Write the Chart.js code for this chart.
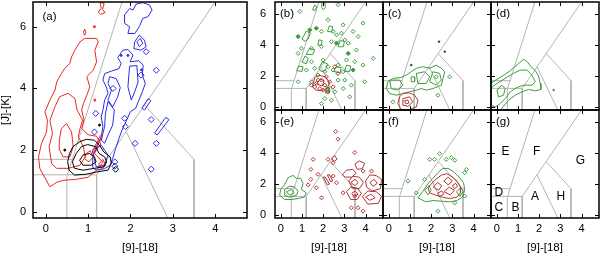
<!DOCTYPE html>
<html>
<head>
<meta charset="utf-8">
<script src="https://cdn.jsdelivr.net/npm/chart.js@4.4.1/dist/chart.umd.min.js"></script>
<style>
  body { margin: 0; background: #fff; }
  #wrap { position: relative; width: 600px; height: 256px; overflow: hidden; }
  canvas { position: absolute; }
</style>
</head>
<body>
<div id="wrap">
  <canvas id="pa" width="250" height="256" style="left:0;top:0"></canvas>
  <canvas id="pb" width="146" height="113" style="left:240px;top:0"></canvas>
  <canvas id="pc" width="114" height="113" style="left:380px;top:0"></canvas>
  <canvas id="pd" width="112" height="113" style="left:488px;top:0"></canvas>
  <canvas id="pe" width="146" height="149" style="left:240px;top:107px"></canvas>
  <canvas id="pf" width="114" height="149" style="left:380px;top:107px"></canvas>
  <canvas id="pg" width="112" height="149" style="left:488px;top:107px"></canvas>
</div>
<script>
// axis ticks
const xTicks = [0, 1, 2, 3, 4];
const yTicks = [0, 2, 4, 6];

// region boundaries in the [9]-[18] / [J]-[K] plane
const boundaryLines = [
  [[0.5, -0.2], [0.5, 1.15], [1.8, 6.8]],
  [[-0.3, 1.7], [0.63, 1.7]],
  [[-0.3, 1.2], [1.2, 1.2], [1.2, -0.2]],
  [[1.2, 1.2], [4.0, 6.8]],
  [[1.9, 2.6], [2.88, -0.2]],
  [[2.33, 3.46], [3.5, 1.7], [3.5, -0.2]]
];
const regionNames = ["A", "B", "C", "D", "E", "F", "G", "H"];
const regionX = [1.8, 0.89, 0.1, 0.1, 0.41, 1.88, 3.94, 3.02];
const regionY = [1.19, 0.5, 0.5, 1.45, 4.12, 4.12, 3.54, 1.19];

// panel (a)
const aRedLoops = [
  [[0.10,0.81],[-0.14,1.41],[-0.17,1.78],[-0.10,2.22],[0.02,2.59],[0.04,2.97],[-0.02,3.24],[0.10,3.62],[0.22,3.95],[0.26,4.21],[0.37,4.48],[0.45,4.65],[0.57,4.81],[0.61,5.02],[0.69,5.24],[0.81,5.51],[0.92,5.62],[1.20,5.62],[1.24,5.51],[1.16,5.24],[1.20,4.86],[1.12,4.59],[0.97,4.38],[1.04,4.05],[0.97,3.78],[0.89,3.51],[0.85,3.30],[0.90,3.00],[0.85,2.70],[1.00,2.50],[1.20,2.45],[1.30,2.20],[1.15,1.90],[1.35,1.60],[1.20,1.35],[1.00,1.12],[0.70,1.05],[0.40,1.02],[0.25,0.95]],
  [[0.14,1.56],[0.08,2.11],[0.16,2.54],[0.10,2.97],[0.22,3.41],[0.33,3.73],[0.53,3.84],[0.69,3.67],[0.74,3.30],[0.87,2.97],[0.81,2.70],[0.77,2.43],[0.89,2.11],[0.93,1.78],[0.81,1.51],[0.53,1.41],[0.26,1.41]],
  [[0.32,2.32],[0.37,2.70],[0.49,2.86],[0.61,2.59],[0.65,2.11],[0.57,1.78],[0.41,1.78],[0.33,2.00]],
  [[0.89,5.82],[0.92,5.92],[0.95,5.82],[0.92,5.72]],
  [[1.28,6.80],[1.38,6.74],[1.34,6.56],[1.40,6.46],[1.30,6.40],[1.24,6.47],[1.31,6.60]],
  [[0.95,1.88],[1.05,1.98],[1.12,1.78],[1.02,1.62],[0.92,1.72]],
  [[1.34,2.47],[1.29,2.47],[1.10,1.96],[1.15,1.92]],
  [[1.25,1.55],[1.35,1.70],[1.42,1.50],[1.32,1.40]]
];
const aRedDots = [[1.15, 6.0], [1.16, 3.62]];
const aBlackLoops = [
  [[0.56,1.89],[0.64,2.11],[0.80,2.27],[0.96,2.35],[1.15,2.32],[1.27,2.16],[1.37,1.94],[1.52,1.78],[1.55,1.57],[1.47,1.35],[1.23,1.30],[0.96,1.22],[0.68,1.19],[0.55,1.35],[0.52,1.62]],
  [[0.72,1.89],[0.84,2.11],[0.99,2.18],[1.18,2.11],[1.26,1.89],[1.39,1.78],[1.44,1.62],[1.37,1.46],[1.15,1.41],[0.88,1.35],[0.68,1.41],[0.63,1.62]],
  [[0.80,1.67],[0.88,1.84],[1.03,1.89],[1.15,1.78],[1.19,1.62],[1.07,1.51],[0.88,1.51]]
];
const aBlackMarks = [[1.65, 1.38]];
const aBlackDots = [[0.45, 2.0], [1.27, 2.81]];
const aBlueLoops = [
  [[1.70,5.00],[1.82,5.24],[1.94,5.26],[2.06,5.08],[1.99,4.86],[2.20,4.90],[2.30,4.75],[2.28,4.43],[2.35,4.16],[2.28,3.89],[2.20,3.62],[2.12,3.35],[2.00,3.25],[1.91,2.97],[1.80,2.65],[1.73,2.38],[1.65,2.05],[1.58,1.73],[1.52,1.51],[1.39,1.40],[1.19,1.35],[1.10,1.46],[1.11,1.78],[1.19,2.11],[1.31,2.43],[1.35,2.76],[1.31,3.08],[1.35,3.30],[1.39,3.62],[1.47,3.84],[1.43,4.05],[1.35,4.27],[1.39,4.48],[1.55,4.56],[1.73,4.64],[1.78,4.81]],
  [[1.86,6.38],[1.98,6.59],[2.06,6.54],[2.13,6.73],[2.29,6.78],[2.45,6.70],[2.51,6.54],[2.41,6.32],[2.29,6.27],[2.21,6.00],[2.10,5.78],[1.94,5.78],[1.98,6.00],[1.86,6.11]],
  [[2.10,5.51],[2.21,5.73],[2.33,5.56],[2.37,5.35],[2.25,5.24],[2.08,5.29]],
  [[2.15,5.51],[2.23,5.62],[2.29,5.46],[2.21,5.35]],
  [[1.51,4.38],[1.66,4.32],[1.76,4.03],[1.70,3.73],[1.58,3.40],[1.47,3.62],[1.55,3.94],[1.47,4.16]],
  [[1.98,4.72],[2.15,4.74],[2.18,4.21],[2.10,3.89],[2.02,3.62],[1.94,4.05]],
  [[1.47,3.57],[1.62,3.30],[1.58,2.81],[1.47,2.49],[1.39,2.22],[1.31,2.32],[1.39,2.76],[1.41,3.19]],
  [[1.10,2.00],[1.31,2.16],[1.47,1.84],[1.39,1.51],[1.19,1.46]],
  [[2.42,3.67],[2.48,3.60],[2.33,3.30],[2.27,3.36]],
  [[2.83,3.06],[2.91,2.99],[2.63,2.49],[2.57,2.55]]
];
const aBlueMarks = [[2.37,5.19],[2.61,4.59],[2.25,4.43],[1.18,3.19],[1.86,3.03],[2.11,2.22],[2.49,2.99],[2.61,2.22],[2.49,1.38],[1.63,1.62],[1.88,2.76],[1.15,2.59],[1.59,4.0],[1.63,1.48]];
const aBlueDots = [[1.78, 5.07], [1.94, 5.07], [2.26, 4.6]];

// panel (b)
const bGreenMarks = [[0.90,6.19],[2.70,6.62],[2.23,5.65],[3.88,5.43],[0.82,4.56],[1.37,4.99],[1.68,5.10],[1.92,4.89],[2.47,4.89],[2.63,4.67],[2.94,5.32],[2.86,4.78],[3.02,4.34],[3.41,4.89],[3.65,4.56],[0.82,3.47],[0.97,3.80],[1.45,3.80],[1.92,3.91],[2.39,4.23],[2.63,4.13],[3.18,4.13],[3.18,3.47],[3.57,3.69],[4.36,3.15],[3.49,2.93],[3.10,3.04],[2.70,2.71],[2.23,2.61],[2.00,3.04],[1.45,2.93],[1.21,2.39],[1.60,2.50],[2.08,2.28],[2.47,2.39],[2.94,2.28],[3.41,2.39],[3.88,2.71],[0.82,1.63],[1.45,1.63],[2.70,1.74],[3.02,1.74],[3.33,1.41],[3.96,1.63],[2.23,1.09],[2.55,0.98],[2.94,1.19],[2.08,0.54],[2.39,0.43],[3.25,0.65],[1.92,0.22],[1.76,2.06]];
const bGreenDots = [[0.82,4.56],[1.68,5.10],[2.63,4.13],[3.18,3.47],[1.37,4.99],[3.41,2.39]];
const bGreenLoops = [
  [[1.95,6.8],[2.08,6.8],[2.1,6.45],[2.0,6.3],[1.93,6.45]],
  [[1.5,6.3],[1.6,6.6],[1.7,6.5],[1.62,6.25]],
  [[1.0,4.4],[1.2,4.9],[1.4,4.8],[1.3,4.4],[1.15,4.25]],
  [[1.75,4.0],[1.8,4.35],[1.95,4.3],[1.92,4.0]],
  [[2.2,4.9],[2.3,5.25],[2.45,5.2],[2.4,4.85]],
  [[1.0,2.9],[1.15,3.3],[1.3,3.15],[1.2,2.8]],
  [[1.8,2.5],[1.95,2.9],[2.2,2.8],[2.1,2.35],[1.9,2.3]],
  [[2.5,2.3],[2.6,2.6],[2.85,2.55],[2.8,2.2]],
  [[2.7,3.9],[2.8,4.3],[3.0,4.25],[2.95,3.9]],
  [[0.75,2.35],[0.85,2.65],[1.05,2.6],[1.0,2.3]],
  [[1.2,3.4],[1.35,3.8],[1.6,3.7],[1.5,3.4]],
  [[3.0,2.3],[3.1,2.7],[3.3,2.65],[3.25,2.3]],
  [[2.1,0.9],[2.15,1.3],[2.3,1.25],[2.28,0.9]]
];
const bRedMarks = [[1.68,1.52],[1.92,1.74],[2.08,1.41],[1.84,1.19],[1.60,1.30],[2.31,1.63],[2.47,1.30],[2.15,1.95],[1.45,1.41],[2.00,1.09],[2.55,2.61],[2.70,2.17],[1.76,1.74],[2.23,0.98]];
const bRedLoops = [
  [[1.5,1.3],[1.6,1.9],[1.8,2.05],[2.1,1.95],[2.3,1.6],[2.2,1.2],[1.9,1.05],[1.65,1.1]],
  [[1.7,1.5],[1.85,1.8],[2.05,1.7],[1.95,1.35]]
];

// panel (c)
const cGreenLoops = [
  [[-0.04,1.63],[0.20,1.85],[0.59,1.91],[0.83,2.06],[1.06,2.28],[1.30,2.50],[1.61,2.61],[1.93,2.50],[2.24,2.71],[2.48,2.50],[2.64,2.28],[2.56,1.85],[2.48,1.41],[2.08,1.19],[1.77,1.09],[1.53,1.19],[1.30,1.09],[0.98,0.98],[0.67,0.87],[0.36,0.76],[0.04,0.87],[-0.12,1.19]],
  [[0.04,1.74],[0.51,1.74],[0.67,1.41],[0.43,1.09],[0.12,1.19]],
  [[1.30,2.17],[1.69,2.28],[1.93,1.95],[1.77,1.52],[1.38,1.52]],
  [[2.08,2.28],[2.40,2.17],[2.48,1.74],[2.24,1.41],[1.93,1.63]],
  [[1.06,1.95],[1.22,1.95],[1.22,1.63],[1.06,1.63]]
];
const cGreenMarks = [[2.87,1.95],[2.24,1.95],[0.20,0.33],[2.32,0.76]];
const cDarkDots = [[2.37,4.23],[2.64,3.58],[1.06,2.71]];
const cRedLoops = [
  [[0.51,0.65],[0.67,0.87],[0.98,0.91],[1.22,0.76],[1.38,0.43],[1.30,0.0],[0.98,-0.17],[0.59,-0.17],[0.43,0.22]],
  [[0.67,0.54],[0.98,0.65],[1.14,0.33],[0.91,0.04],[0.67,0.11]],
  [[0.75,0.40],[0.90,0.45],[0.95,0.25],[0.80,0.20]]
];

// panel (d)
const dGreenLoops = [
  [[-0.31,1.52],[0.17,1.91],[0.64,2.35],[1.03,2.82],[1.27,3.08],[1.45,2.91],[1.61,2.61],[1.82,2.35],[1.97,2.00],[2.05,1.52],[2.08,1.13],[1.82,1.04],[1.50,1.13],[1.19,0.98],[0.87,0.76],[0.56,0.43],[0.32,0.04],[0.17,-0.22],[-0.31,-0.22]],
  [[-0.31,1.19],[0.01,1.52],[0.40,1.85],[0.79,2.17],[1.11,2.39],[1.42,2.39],[1.66,2.06],[1.82,1.63],[1.66,1.41],[1.27,1.41],[0.95,1.26],[0.64,0.98],[0.40,0.54],[0.17,0.22],[-0.07,0.0],[-0.31,0.11]],
  [[0.01,1.09],[0.24,1.41],[0.40,1.19],[0.32,0.76],[0.09,0.65]]
];
const dGreenDots = [[2.68, 1.09]];

// panel (e)
const eGreenLoops = [
  [[0.35,2.41],[0.58,2.56],[0.74,2.37],[0.94,2.37],[1.05,2.02],[0.97,1.65],[1.21,1.43],[1.10,1.15],[0.82,1.06],[0.50,1.00],[0.19,1.00],[-0.05,1.28],[0.00,1.65],[0.19,1.98]],
  [[0.19,1.65],[0.42,1.87],[0.66,1.80],[0.82,1.54],[0.74,1.28],[0.42,1.15],[0.19,1.28]],
  [[0.27,1.50],[0.50,1.65],[0.63,1.43],[0.42,1.28]]
];
const eRedMarks = [[2.59,5.41],[2.70,4.91],[3.49,4.04],[1.53,3.60],[2.23,3.60],[2.47,3.39],[1.42,2.95],[1.76,2.63],[1.42,2.30],[1.68,1.76],[2.63,2.08],[2.47,2.52],[2.94,1.43],[3.49,1.22],[3.88,2.84],[4.28,2.84],[3.33,0.46],[3.65,0.46],[3.88,0.24],[1.92,1.11],[1.29,1.95]];
const eRedLoops = [
  [[2.0,2.45],[2.1,2.45],[2.3,2.0],[2.2,1.95]],
  [[2.2,2.6],[2.3,2.6],[2.45,2.2],[2.35,2.15]],
  [[2.9,2.6],[3.1,2.9],[3.4,2.95],[3.55,2.7],[3.35,2.45],[3.05,2.45]],
  [[3.2,2.2],[3.4,2.5],[3.7,2.45],[3.9,2.1],[3.7,1.7],[3.4,1.7]],
  [[4.0,2.2],[4.2,2.6],[4.5,2.55],[4.75,2.3],[4.7,1.7],[4.3,1.55],[4.05,1.8]],
  [[3.1,1.5],[3.3,1.8],[3.6,1.75],[3.8,1.4],[3.6,1.0],[3.3,1.0]],
  [[3.85,1.2],[4.1,1.55],[4.5,1.5],[4.75,1.2],[4.6,0.75],[4.1,0.7]],
  [[3.5,3.3],[3.7,3.5],[3.95,3.35],[3.85,3.0],[3.6,2.95]],
  [[2.4,3.7],[2.55,3.85],[2.65,3.6],[2.5,3.45]],
  [[3.3,2.1],[3.5,2.3],[3.65,2.1],[3.5,1.9]],
  [[4.2,2.1],[4.4,2.3],[4.55,2.05],[4.35,1.85]],
  [[4.0,1.15],[4.25,1.35],[4.45,1.1],[4.2,0.95]],
  [[3.35,1.4],[3.5,1.55],[3.65,1.35],[3.45,1.2]]
];

// panel (f)
const fGreenLoops = [
  [[1.38,1.11],[1.61,1.54],[1.85,2.02],[2.08,2.37],[2.32,2.74],[2.53,3.00],[2.79,3.02],[3.06,2.80],[3.31,2.45],[3.53,2.08],[3.58,1.59],[3.47,1.15],[3.22,0.93],[2.87,0.85],[2.48,0.89],[2.08,0.93],[1.74,0.85]],
  [[1.7,1.6],[1.9,1.9],[2.0,1.6],[1.85,1.3]],
  [[3.2,1.5],[3.4,1.8],[3.5,1.5],[3.35,1.2]]
];
const fGreenMarks = [[2.40,3.97],[1.93,3.60],[2.16,3.60],[2.71,3.60],[3.11,3.54],[3.66,2.95],[0.91,2.19],[2.32,0.24],[3.11,0.78],[1.69,2.30],[1.30,1.43],[2.95,3.71],[3.58,2.74],[3.58,1.22]];
const fRedLoops = [
  [[1.85,1.76],[2.16,2.24],[2.48,2.58],[2.75,2.67],[3.00,2.45],[3.22,2.19],[3.38,1.80],[3.38,1.43],[3.22,1.15],[2.87,1.06],[2.53,1.15],[2.21,1.28],[1.93,1.43]],
  [[2.1,1.8],[2.3,2.1],[2.5,1.9],[2.35,1.6]],
  [[2.6,2.2],[2.8,2.45],[3.0,2.2],[2.8,1.95]],
  [[2.6,1.5],[2.85,1.8],[3.1,1.6],[2.9,1.3]],
  [[2.3,1.4],[2.5,1.55],[2.6,1.35],[2.4,1.2]],
  [[3.0,1.9],[3.15,2.05],[3.25,1.85],[3.1,1.7]]
];

const RED_A = "#e8281e";
const BLUE_A = "#2b2be6";
const GREEN = "#3c9c3c";
const RED_S = "#b23434";
const GRAY = "#b4b4b4";
const FONT = "'Liberation Sans', Arial, sans-serif";

function toXY(pts) {
  return pts.map(p => ({ x: p[0], y: p[1] }));
}
function loopSets(loops, color) {
  return loops.map(pts => ({
    data: toXY(pts.concat([pts[0]])),
    showLine: true, borderColor: color, borderWidth: 1,
    pointRadius: 0, fill: false, tension: 0, order: 0
  }));
}
function markSet(pts, color, r, filled) {
  return {
    data: toXY(pts), showLine: false, pointStyle: filled ? "circle" : "rectRot",
    pointRadius: r, borderColor: color, borderWidth: 1,
    backgroundColor: filled ? color : "rgba(0,0,0,0)", order: 0
  };
}
function boundarySets() {
  return boundaryLines.map(pts => ({
    data: toXY(pts), showLine: true, borderColor: GRAY, borderWidth: 1,
    pointRadius: 0, fill: false, order: 1
  }));
}

// frame, inward ticks, panel letter, region names
const framePlugin = {
  id: "panelFrame",
  afterDatasetsDraw(chart, args, opts) {
    const { ctx, chartArea: a, scales: { x, y } } = chart;
    ctx.save();
    ctx.strokeStyle = "#000";
    ctx.lineWidth = 1;
    ctx.beginPath();
    xTicks.forEach(v => {
      const px = Math.round(x.getPixelForValue(v)) + 0.5;
      ctx.moveTo(px, a.bottom); ctx.lineTo(px, a.bottom - 4);
      ctx.moveTo(px, a.top); ctx.lineTo(px, a.top + 4);
    });
    yTicks.forEach(v => {
      const py = Math.round(y.getPixelForValue(v)) + 0.5;
      ctx.moveTo(a.left, py); ctx.lineTo(a.left + 4, py);
      ctx.moveTo(a.right, py); ctx.lineTo(a.right - 4, py);
    });
    ctx.stroke();
    ctx.lineWidth = 1.5;
    ctx.strokeRect(a.left, a.top, a.right - a.left, a.bottom - a.top);
    ctx.fillStyle = "#000";
    ctx.font = "11.5px " + FONT;
    ctx.textBaseline = "middle";
    ctx.textAlign = "left";
    ctx.fillText(opts.label, a.left + opts.lx, a.top + opts.ly);
    if (opts.regions) {
      ctx.font = "12px " + FONT;
      ctx.textAlign = "center";
      regionNames.forEach((n, i) => {
        ctx.fillText(n, x.getPixelForValue(regionX[i]), y.getPixelForValue(regionY[i]));
      });
    }
    ctx.restore();
  }
};

function noPad(s) {
  s.paddingLeft = 0; s.paddingRight = 0; s.paddingTop = 0; s.paddingBottom = 0;
}

function makePanel(id, p) {
  const tickFont = { family: FONT, size: 11 };
  const titleFont = { family: FONT, size: 11.5 };
  new Chart(document.getElementById(id), {
    type: "scatter",
    data: { datasets: p.sets.concat(boundarySets()) },
    options: {
      responsive: false,
      animation: false,
      events: [],
      layout: { autoPadding: false, padding: p.pad },
      plugins: {
        legend: { display: false },
        tooltip: { enabled: false },
        panelFrame: { label: p.label, lx: p.lx, ly: p.ly, regions: p.regions }
      },
      scales: {
        x: {
          type: "linear", min: p.xmin, max: p.xmax, display: p.showX,
          afterBuildTicks: s => { s.ticks = xTicks.map(v => ({ value: v })); },
          afterFit: s => { noPad(s); if (p.showX) s.height = 38; },
          grid: { display: false, drawTicks: false },
          border: { display: false },
          ticks: { padding: 4, color: "#000", font: tickFont, maxRotation: 0, autoSkip: false, callback: v => String(v) },
          title: { display: true, text: "[9]-[18]", color: "#000", font: titleFont, padding: { top: 0, bottom: 1 } }
        },
        y: {
          type: "linear", min: -0.2, max: 6.8, display: p.showY,
          afterBuildTicks: s => { s.ticks = yTicks.map(v => ({ value: v })); },
          afterFit: s => { noPad(s); if (p.showY) s.width = p.yWidth; },
          grid: { display: false, drawTicks: false },
          border: { display: false },
          ticks: { padding: p.yPad, color: "#000", font: tickFont, autoSkip: false, callback: v => String(v) },
          title: { display: p.yTitle, text: "[J]-[K]", color: "#000", font: { family: FONT, size: 11.5, lineHeight: 1 }, padding: { top: 0, bottom: 0 } }
        }
      }
    },
    plugins: [framePlugin]
  });
}

const SMALL_MIN = -0.27, SMALL_MAX = 4.82;

makePanel("pa", {
  label: "(a)", lx: 9.5, ly: 15, xmin: -0.3, xmax: 4.75, showX: true, showY: true, yTitle: true,
  yWidth: 33, yPad: 7, pad: { left: 0, right: 3, top: 2, bottom: 0 },
  sets: [].concat(
    loopSets(aBlackLoops, "#000"),
    [markSet(aBlackMarks, "#000", 3, false), markSet(aBlackDots, "#000", 1, true)],
    loopSets(aRedLoops, RED_A),
    [markSet(aRedDots, RED_A, 1, true)],
    loopSets(aBlueLoops, BLUE_A),
    [markSet(aBlueMarks, BLUE_A, 3, false), markSet(aBlueDots, BLUE_A, 1, true)]
  )
});
makePanel("pb", {
  label: "(b)", lx: 5, ly: 12, xmin: SMALL_MIN, xmax: SMALL_MAX, showX: false, showY: true, yTitle: false,
  yWidth: 35, yPad: 9, pad: { left: 0, right: 3, top: 2, bottom: 3 },
  sets: [].concat(
    loopSets(bRedLoops, RED_S),
    [markSet(bRedMarks, RED_S, 2, false)],
    loopSets(bGreenLoops, GREEN),
    [markSet(bGreenMarks, GREEN, 2, false), markSet(bGreenDots, GREEN, 1.5, true)]
  )
});
makePanel("pc", {
  label: "(c)", lx: 5, ly: 12, xmin: SMALL_MIN, xmax: SMALL_MAX, showX: false, showY: false, yTitle: false,
  pad: { left: 3, right: 3, top: 2, bottom: 3 },
  sets: [].concat(
    loopSets(cRedLoops, RED_S),
    loopSets(cGreenLoops, GREEN),
    [markSet(cGreenMarks, GREEN, 2, false), markSet(cDarkDots, "#333", 0.8, true)]
  )
});
makePanel("pd", {
  label: "(d)", lx: 5, ly: 12, xmin: SMALL_MIN, xmax: SMALL_MAX, showX: false, showY: false, yTitle: false,
  pad: { left: 3, right: 1, top: 2, bottom: 3 },
  sets: [].concat(
    loopSets(dGreenLoops, GREEN),
    [markSet(dGreenDots, GREEN, 0.8, true)]
  )
});
makePanel("pe", {
  label: "(e)", lx: 5, ly: 12, xmin: SMALL_MIN, xmax: SMALL_MAX, showX: true, showY: true, yTitle: false,
  yWidth: 35, yPad: 9, pad: { left: 0, right: 3, top: 3, bottom: 0 },
  sets: [].concat(
    loopSets(eGreenLoops, GREEN),
    loopSets(eRedLoops, RED_S),
    [markSet(eRedMarks, RED_S, 2, false)]
  )
});
makePanel("pf", {
  label: "(f)", lx: 5, ly: 12, xmin: SMALL_MIN, xmax: SMALL_MAX, showX: true, showY: false, yTitle: false,
  pad: { left: 3, right: 3, top: 3, bottom: 0 },
  sets: [].concat(
    loopSets(fRedLoops, RED_S),
    loopSets(fGreenLoops, GREEN),
    [markSet(fGreenMarks, GREEN, 2, false)]
  )
});
makePanel("pg", {
  label: "(g)", lx: 5, ly: 12, xmin: SMALL_MIN, xmax: SMALL_MAX, showX: true, showY: false, yTitle: false,
  pad: { left: 3, right: 1, top: 3, bottom: 0 }, regions: true,
  sets: []
});
</script>
</body>
</html>
